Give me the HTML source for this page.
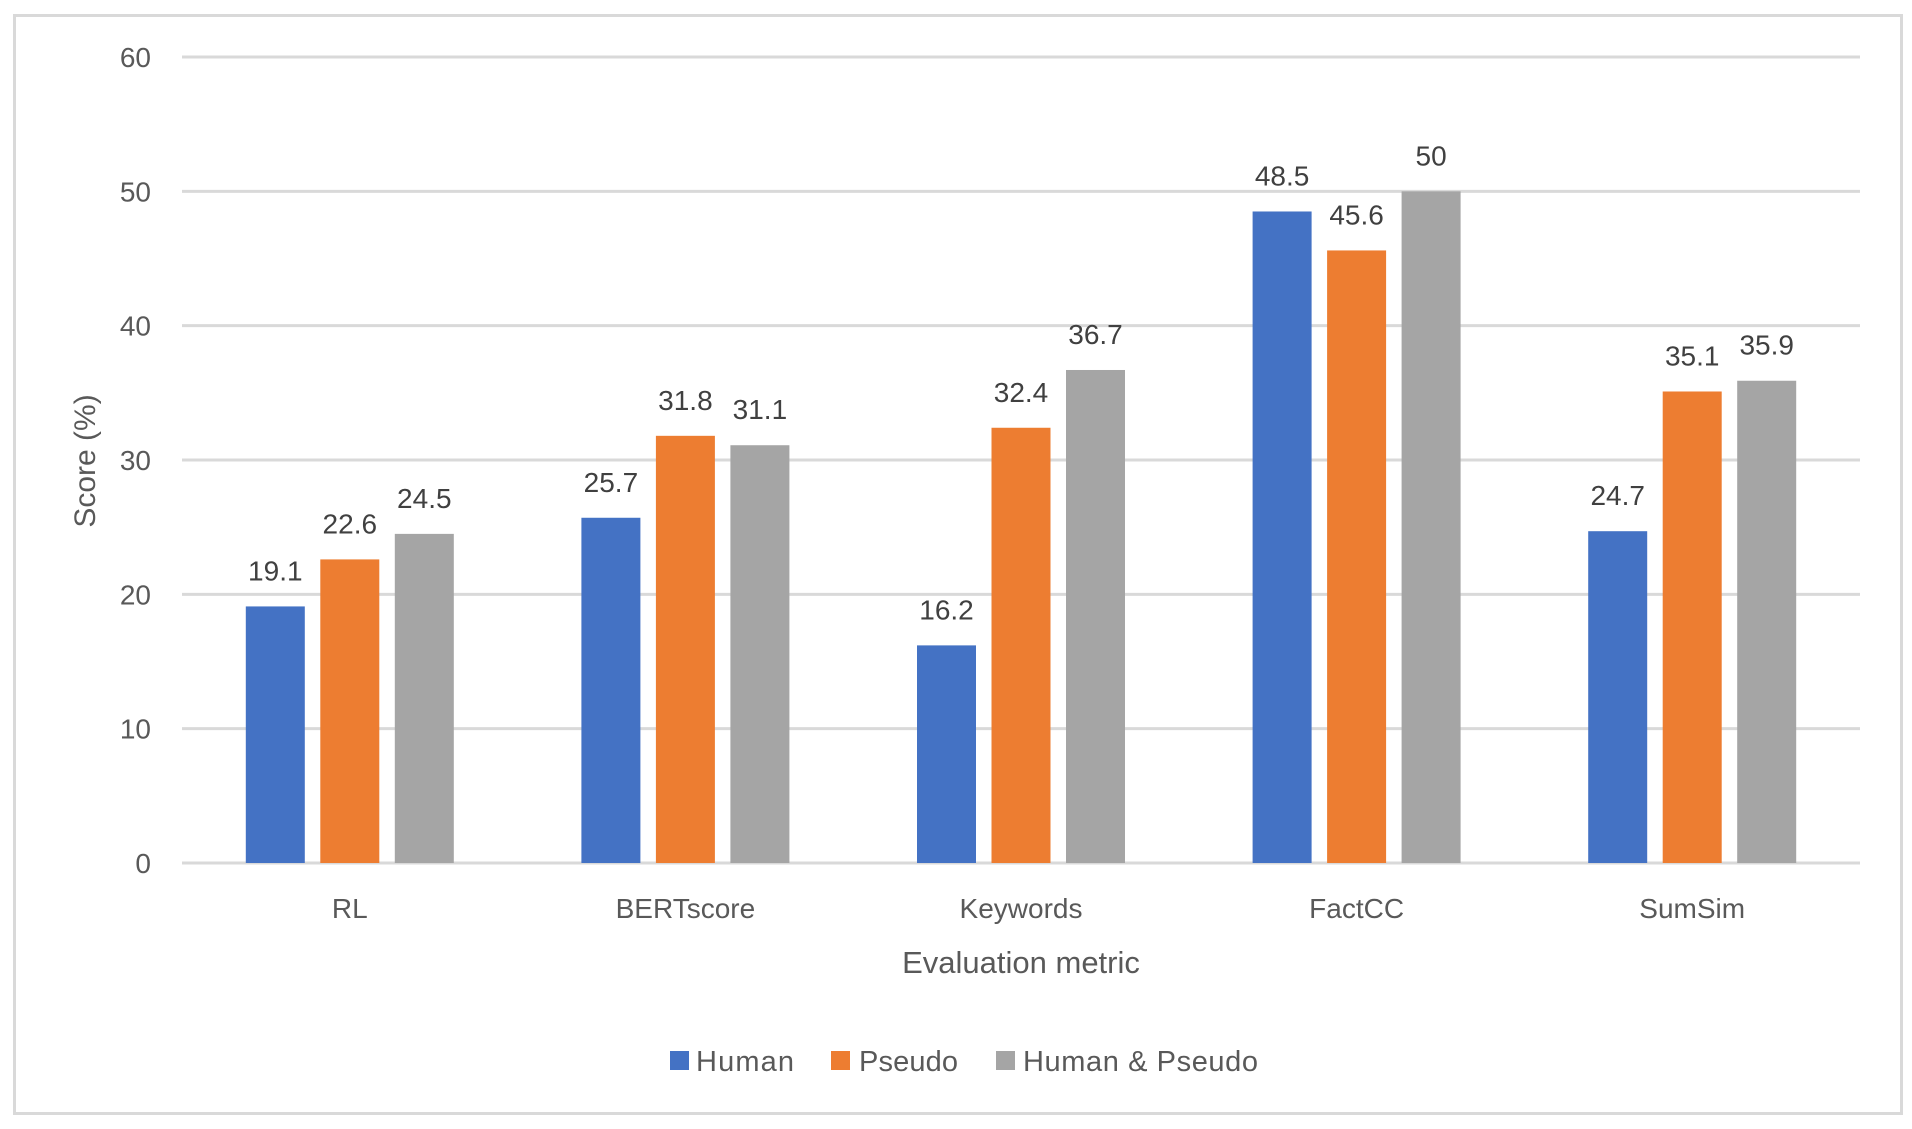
<!DOCTYPE html>
<html><head><meta charset="utf-8"><style>
html,body{margin:0;padding:0;background:#fff;}
svg{display:block;font-family:"Liberation Sans",sans-serif;}
</style></head><body>
<svg id="chart" width="1912" height="1129" viewBox="0 0 1912 1129">
<rect x="14.5" y="15.5" width="1887" height="1098" fill="#fff" stroke="#d9d9d9" stroke-width="3"/>
<g id="grid"></g>
<g id="bars"></g>
<g id="labels"></g>
<text x="0" y="0" transform="translate(95,461) rotate(-90)" text-anchor="middle" font-size="30" fill="#595959">Score (%)</text>
<text x="1021" y="973" text-anchor="middle" font-size="31" fill="#595959">Evaluation metric</text>
<g>
<rect x="670" y="1051" width="19" height="19" fill="#4472c4"/>
<text x="696" y="1071" font-size="29" fill="#595959" textLength="98">Human</text>
<rect x="831" y="1051" width="19" height="19" fill="#ed7d31"/>
<text x="859" y="1071" font-size="29" fill="#595959" textLength="99">Pseudo</text>
<rect x="996" y="1051" width="19" height="19" fill="#a5a5a5"/>
<text x="1023" y="1071" font-size="29" fill="#595959" textLength="235">Human &amp; Pseudo</text>
</g>
</svg>
<script>
const categories = ["RL","BERTscore","Keywords","FactCC","SumSim"];
const human = [19.1,25.7,16.2,48.5,24.7];
const pseudo = [22.6,31.8,32.4,45.6,35.1];
const humanPseudo = [24.5,31.1,36.7,50,35.9];
const yTicks = [0,10,20,30,40,50,60];

const NS="http://www.w3.org/2000/svg";
const L=182,R=1860,Y0=863,Y60=57;
const y=v=>Y0-(v/60)*(Y0-Y60);
const catW=(R-L)/categories.length;
const bw=59,step=74.5;
const series=[{d:human,c:"#4472c4",n:"human"},{d:pseudo,c:"#ed7d31",n:"pseudo"},{d:humanPseudo,c:"#a5a5a5",n:"human-pseudo"}];
function mk(tag,attrs,parent,text){const e=document.createElementNS(NS,tag);for(const k in attrs)e.setAttribute(k,attrs[k]);if(text!==undefined)e.textContent=text;document.getElementById(parent).appendChild(e);return e;}
yTicks.forEach(t=>{
  const g=mk("line",{x1:L,x2:R,y1:y(t),y2:y(t),stroke:"#d9d9d9","stroke-width":3},"grid");
  
  
  const tx=mk("text",{x:151,y:y(t)+10,"text-anchor":"end","font-size":28,fill:"#595959"},"grid",String(t));
  
  
});
categories.forEach((c,i)=>{
  const cx=L+catW*(i+0.5);
  const t=mk("text",{x:cx,y:918,"text-anchor":"middle","font-size":28,fill:"#595959"},"labels",c);
  
  
  series.forEach((s,j)=>{
    const bx=cx+(j-1)*step-bw/2;
    const v=s.d[i];
    const b=mk("rect",{x:bx,y:y(v),width:bw,height:Y0-y(v),fill:s.c},"bars");
    
    
    const lt=mk("text",{x:bx+bw/2,y:y(v)-26,"text-anchor":"middle","font-size":28,fill:"#404040"},"labels",String(v));
    
    
  });
});
</script>
</body></html>
